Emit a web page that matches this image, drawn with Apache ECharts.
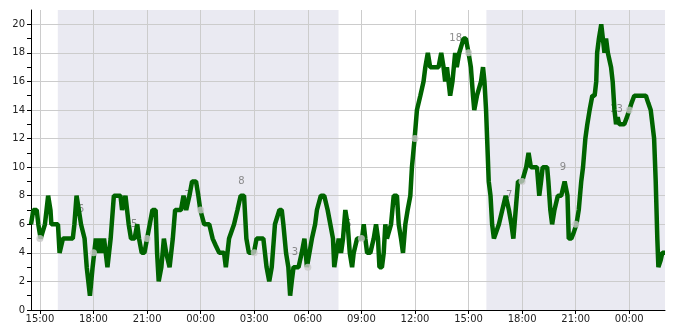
<!DOCTYPE html>
<html><head><meta charset="utf-8">
<script src="https://cdn.jsdelivr.net/npm/echarts@6/dist/echarts.min.js"></script>
<style>html,body{margin:0;padding:0;background:#fff}#c{width:685px;height:330px}</style>
</head><body><div id="c"></div>
<script>
// time in hours since midnight of the first day
const hours = [14.5,14.63,14.82,14.91,15.04,15.28,15.46,15.59,15.64,16.01,16.1,16.29,16.84,16.93,17.05,17.18,17.3,17.5,17.62,17.8,17.95,18.04,18.13,18.26,18.37,18.46,18.59,18.68,18.78,18.96,19.14,19.51,19.6,19.79,19.97,20.1,20.3,20.45,20.55,20.7,20.85,21.0,21.15,21.3,21.48,21.56,21.65,21.8,21.94,22.07,22.26,22.44,22.57,22.9,23.04,23.19,23.37,23.52,23.74,23.87,23.98,24.2,24.48,24.67,24.85,25.04,25.31,25.41,25.59,25.87,26.06,26.24,26.43,26.56,26.7,26.98,27.13,27.51,27.69,27.84,27.98,28.16,28.41,28.54,28.63,28.78,28.91,29.01,29.1,29.2,29.48,29.66,29.81,29.95,30.04,30.23,30.41,30.51,30.73,30.92,31.11,31.26,31.41,31.48,31.6,31.73,31.86,31.97,32.1,32.23,32.35,32.48,32.57,32.76,32.85,33.04,33.13,33.22,33.32,33.5,33.69,33.82,33.93,34.01,34.15,34.25,34.34,34.43,34.53,34.66,34.81,34.99,35.09,35.22,35.33,35.46,35.59,35.74,35.83,35.98,36.11,36.3,36.48,36.58,36.72,36.85,37.32,37.47,37.6,37.69,37.79,37.88,37.97,38.1,38.25,38.34,38.48,38.72,38.85,39.0,39.13,39.25,39.32,39.47,39.7,39.81,39.89,39.98,40.04,40.13,40.23,40.32,40.42,40.51,40.7,40.89,41.08,41.26,41.4,41.51,41.64,41.77,42.0,42.11,42.23,42.36,42.49,42.83,42.96,43.06,43.15,43.4,43.47,43.58,43.68,43.81,44.0,44.19,44.38,44.54,44.61,44.76,44.91,45.04,45.17,45.31,45.41,45.54,45.65,45.78,45.93,46.06,46.15,46.2,46.3,46.43,46.52,46.61,46.7,46.8,46.89,46.98,47.07,47.17,47.26,47.35,47.44,47.72,47.87,48.0,48.13,48.28,48.93,49.06,49.2,49.3,49.39,49.48,49.57,49.63,49.76,49.85,50.0];
const speeds = [6,7,7,6,5,6,8,7,6,6,4,5,5,6,8,7,6,5,3,1,3,4,5,4,5,4,5,5,3,5,8,8,7,8,6,5,5,6,5,4,4,5,6,7,7,4,2,3,5,4,3,5,7,7,8,7,8,9,9,8,7,6,6,5,4.5,4,4,3,5,6,7,8,8,5,4,4,5,5,3,2,3,6,7,7,6,4,3,1,2,3,3,4,5,3,3,5,6,7,8,8,7,6,5,3,4,5,4,5,7,6,4,3,4,5,5,5,6,5,4,4,5,6,5,3,3,4,6,5,5,6,8,8,6,5,4,6,7,8,10,12,14,15,16,17,18,17,17,18,17,16,17,16,15,16,18,17,18,19,19,18,17,15,14,15,16,17,16,14,12,9,8,6,5,5,6,7,8,7,6,5,7,9,9,9,10,11,10,10,8,9,10,10,9,7,6,7,8,8,9,8,5,5,5.5,6,7,9,10,12,13,14,15,15,16,18,19,20,19,18,19,18,18,17,16,14,13,13.5,13,13,13.5,14,14.5,15,15,14.5,14,14,12,9,5,3,3.5,4,4];
const dotHours = [15,18,21,24,27,30,33,36,39,42,45,48];
const dotValues = [5,4,5,7,4,3,5,12,18,9,6,14];
const labelHours = [17.3,20.28,23.28,26.28,29.28,32.28,35.28,38.28,41.28,44.28,47.28];
const labelValues = [6,5,7,8,3,5,4,18,7,9,13];
const xTicks = [15,18,21,24,27,30,33,36,39,42,45,48];
const yTicks = [0,2,4,6,8,10,12,14,16,18,20];
const nightStart = [16.0, 40.0];
const nightEnd = [31.72, 50.0];

const chart = echarts.init(document.getElementById('c'), null, {renderer: 'canvas'});
const pad = n => (n < 10 ? '0' : '') + n;
const font = 'DejaVu Sans';
chart.setOption({
  animation: false,
  backgroundColor: '#ffffff',
  grid: {left: 31, right: 20, top: 10, bottom: 20, containLabel: false},
  xAxis: {
    type: 'value', min: 14.5, max: 50, z: 1.5,
    axisLine: {show: true, onZero: false, lineStyle: {color: '#000', width: 1}},
    axisTick: {show: true, length: 4, customValues: xTicks, lineStyle: {color: '#000'}},
    axisLabel: {customValues: xTicks, formatter: v => pad(Math.round(v) % 24) + ':00', color: '#222', fontFamily: font, fontSize: 10, margin: 4},
    splitLine: {show: true, lineStyle: {color: '#cccccc', width: 1}}
  },
  yAxis: {
    type: 'value', min: 0, max: 21, interval: 2, z: 1.5,
    axisLine: {show: true, lineStyle: {color: '#000', width: 1}},
    axisTick: {show: true, length: 4, customValues: yTicks, lineStyle: {color: '#000'}},
    minorTick: {show: true, splitNumber: 2, length: 4, lineStyle: {color: '#000'}},
    axisLabel: {customValues: yTicks, color: '#222', fontFamily: font, fontSize: 10, margin: 6},
    splitLine: {show: true, lineStyle: {color: '#cccccc', width: 1}}
  },
  series: [
    {
      type: 'line', data: [], silent: true,
      markArea: {
        silent: true, z: 1,
        itemStyle: {color: '#eaeaf2'},
        data: nightStart.map((s, i) => [{xAxis: s}, {xAxis: nightEnd[i]}])
      }
    },
    {
      type: 'scatter', z: 1.8, silent: true,
      data: labelHours.map((h, i) => [h, labelValues[i]]),
      symbolSize: 1,
      itemStyle: {color: 'rgba(0,0,0,0)'},
      label: {show: true, position: 'top', distance: 9, formatter: p => String(p.value[1]), color: '#707070', fontFamily: font, fontSize: 10}
    },
    {
      type: 'line', z: 2, silent: true,
      data: hours.map((h, i) => [h, speeds[i]]),
      showSymbol: false, symbol: 'none',
      lineStyle: {color: '#006400', width: 4.5}
    },
    {
      type: 'scatter', z: 3, silent: true,
      data: dotHours.map((h, i) => [h, dotValues[i]]),
      symbolSize: 7,
      itemStyle: {color: '#c8c8c8'}
    }
  ]
});
</script></body></html>
